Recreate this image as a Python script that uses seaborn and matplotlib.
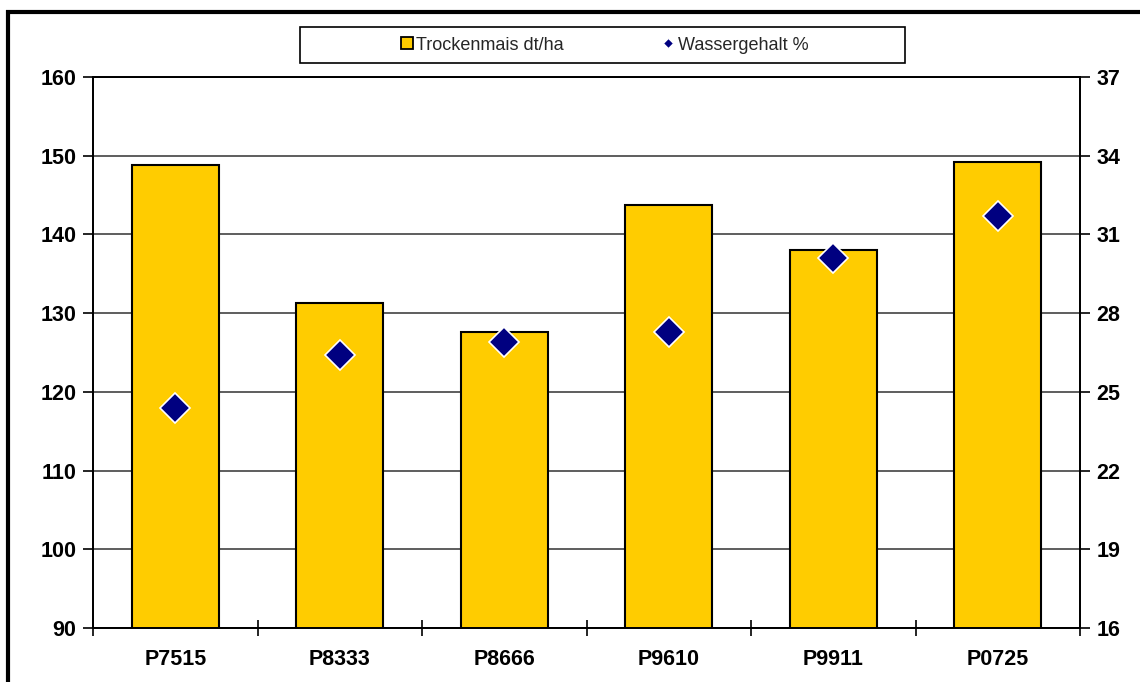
import numpy as np
import seaborn as sns
import matplotlib.pyplot as plt
from matplotlib.patches import Rectangle
from matplotlib.lines import Line2D

# Daten
sorten = ['P7515', 'P8333', 'P8666', 'P9610', 'P9911', 'P0725']
trockenmais = [148.8, 131.3, 127.6, 143.7, 138.0, 149.2]   # dt/ha
wassergehalt = [24.4, 26.4, 26.9, 27.3, 30.1, 31.7]        # %

sns.set_theme(style='white')
plt.rcParams['font.family'] = ['Liberation Sans', 'DejaVu Sans']

fig = plt.figure(figsize=(11.4, 6.82), dpi=100)
ax = fig.add_axes([93 / 1140, 1 - 628 / 682, (1080 - 93) / 1140, (628 - 77) / 682])

sns.barplot(x=sorten, y=trockenmais, color='#FFCC00', saturation=1,
            width=0.53, edgecolor='black', linewidth=1.5, ax=ax, zorder=2)
ax.set_ylim(90, 160)
ax.set_yticks(np.arange(90, 161, 10))
ax.yaxis.grid(True, color='#505050', linewidth=1.3, zorder=0)
ax.set_axisbelow(True)

ax2 = ax.twinx()
sns.pointplot(x=sorten, y=wassergehalt, linestyle='none', markers='D',
              color='#000080', markersize=15, markeredgecolor='white',
              markeredgewidth=1.2, ax=ax2, zorder=5)
ax2.set_ylim(16, 37)
ax2.set_yticks(np.arange(16, 38, 3))
ax2.set_xlim(-0.5, 5.5)
ax.set_xlim(-0.5, 5.5)

for a in (ax, ax2):
    for s in a.spines.values():
        s.set_color('black')
        s.set_linewidth(1.3)
    a.tick_params(axis='y', which='major', direction='out', length=7, width=1.2,
                  colors='black', labelsize=15.5, pad=5)
    a.set_ylabel('')
    for lbl in a.get_yticklabels():
        lbl.set_fontweight('bold')

ax.tick_params(axis='y', left=True, right=False)
ax2.tick_params(axis='y', left=False, right=True)

# x-Achse: Striche an den Kategoriegrenzen
ax.set_xticks(np.arange(6))
ax.set_xticklabels(sorten, fontweight='bold', fontsize=15.5)
ax.tick_params(axis='x', length=0, pad=15, labelcolor='black')
ax.set_xticks(np.arange(-0.5, 6, 1), minor=True)
ax.tick_params(axis='x', which='minor', direction='inout', length=12, width=1.2,
               color='black', bottom=True)
ax2.tick_params(axis='x', bottom=False, top=False, labelbottom=False)

# Legende
fig.patches.append(Rectangle((300 / 1140, 1 - 63 / 682), 605 / 1140, 36 / 682,
                             transform=fig.transFigure, facecolor='white',
                             edgecolor='black', linewidth=1.2))
handles = [
    Line2D([], [], marker='s', linestyle='none', markersize=9,
           markerfacecolor='#FFCC00', markeredgecolor='black', markeredgewidth=1.3),
    Line2D([], [], marker='D', linestyle='none', markersize=5.5,
           markerfacecolor='#000080', markeredgecolor='white', markeredgewidth=0.8),
]
fig.legend(handles, ['Trockenmais dt/ha', 'Wassergehalt %'], ncol=2, frameon=False,
           loc='center', bbox_to_anchor=(604 / 1140, 1 - 45 / 682),
           fontsize=13, handlelength=0.75, handletextpad=0.15, columnspacing=5.4)

# Rahmen links/oben
fig.add_artist(Line2D([7.5 / 1140, 7.5 / 1140], [0, 1 - 10 / 682],
                      transform=fig.transFigure, color='black', linewidth=3,
                      solid_capstyle='butt'))
fig.add_artist(Line2D([6 / 1140, 1], [1 - 11.5 / 682, 1 - 11.5 / 682],
                      transform=fig.transFigure, color='black', linewidth=3,
                      solid_capstyle='butt'))

fig.savefig('out.png', dpi=100)
